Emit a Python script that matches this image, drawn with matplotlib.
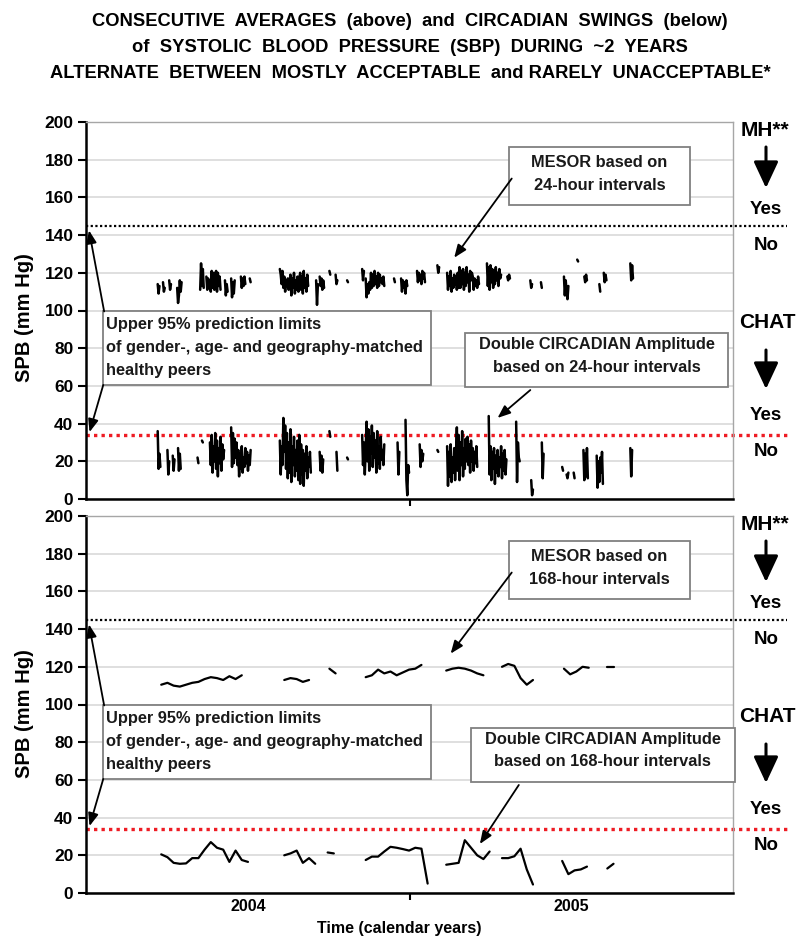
import matplotlib
matplotlib.use("Agg")
import matplotlib.pyplot as plt
from matplotlib.patches import Rectangle, FancyArrowPatch
import numpy as np

plt.rcParams['font.family'] = ['Liberation Sans', 'DejaVu Sans']

# ---------------------------------------------------------------------------
# Data: days counted from 1 Jan 2004; each run = (first day, consecutive values)
# 24-hour runs are daily, 168-hour runs are weekly.
# ---------------------------------------------------------------------------
mesor24_runs = [
    (81, [114, 109, 113]),
    (87, [115, 110, 112]),
    (94, [116, 111, 114]),
    (103, [112, 104, 108, 116, 110, 115]),
    (129, [111, 125, 113, 122, 112]),
    (136, [118, 111, 117, 112, 116, 110, 121, 112, 120, 111, 119, 121, 110, 120, 113, 118, 111]),
    (157, [116, 108, 114, 110]),
    (164, [117, 107, 115, 109, 116]),
    (175, [118, 112, 117, 113, 118, 114]),
    (185, [117, 115]),
    (219, [122, 119, 114, 121, 112, 118, 110, 116, 113, 117, 111, 115, 119, 108, 117, 112, 120,
           109, 116, 111, 118, 110, 117, 120, 111, 118, 109, 121, 112, 117, 110, 119, 113]),
    (260, [116, 103, 114]),
    (264, [118, 113, 117, 111, 116, 112]),
    (275, [121, 119]),
    (282, [119, 114, 116]),
    (295, [116, 115]),
    (312, [122, 116, 121]),
    (316, [117, 107, 114, 109, 115, 111, 120, 112, 119, 113, 121, 114, 118, 112, 120, 113, 119,
           115, 117, 114, 118, 113]),
    (348, [117, 115]),
    (356, [117, 110, 116, 112, 115, 109, 116, 113]),
    (374, [121, 115, 120, 116, 119, 114, 121, 117, 120, 115]),
    (397, [124, 120, 123]),
    (408, [120, 111, 118, 113, 121, 110, 117, 112, 119, 114, 118, 111, 120, 112, 123, 112, 121,
           114, 122, 111, 120, 113, 123, 115, 119, 110, 121, 116, 120, 118, 111, 117, 113, 116,
           112, 118, 114]),
    (453, [125, 113, 123, 111, 124, 115, 122, 112, 121, 114, 123, 116, 120, 113, 122, 117, 119]),
    (476, [118, 116, 119, 117]),
    (502, [116, 112, 114]),
    (514, [115, 112]),
    (540, [118, 108, 116, 110, 106, 113]),
    (555, [127, 126]),
    (563, [118, 115, 119, 116]),
    (580, [114, 110]),
    (585, [120, 115, 119, 116]),
    (615, [125, 116, 124, 117]),
]

amp24_runs = [
    (81, [36, 16, 24, 17]),
    (92, [26, 13, 20]),
    (98, [23, 15, 21]),
    (104, [27, 15, 24, 16]),
    (126, [22, 19]),
    (131, [31, 30]),
    (140, [30, 18, 34, 14, 28, 20, 35, 16, 31, 12, 27, 19, 33, 15, 29, 21, 26]),
    (164, [38, 17, 35, 19, 32, 22, 30, 18, 26, 12, 24, 16, 28, 14, 22, 17, 27, 19, 25, 15, 23,
           18, 26]),
    (219, [31, 13, 28, 18, 43, 25, 39, 16, 35, 11, 30, 14, 37, 9, 28, 18, 33, 12, 26, 15, 31,
           10, 34, 8, 29, 13, 26, 7, 24, 15, 28, 11, 22, 17, 25, 14]),
    (264, [25, 15, 23, 14, 21]),
    (275, [36, 33]),
    (283, [25, 15]),
    (295, [22, 21]),
    (312, [34, 18, 30, 13, 26, 41, 20, 37, 15, 33, 24, 39, 17, 35, 22, 31, 14, 36, 19, 28, 16,
           33, 21, 26, 18, 29]),
    (352, [30, 13, 25]),
    (361, [42, 10, 2, 18, 14]),
    (377, [29, 17, 26, 20, 24]),
    (397, [26, 25]),
    (408, [28, 7, 25, 12, 29, 9, 22, 14, 27, 10, 24, 38, 15, 34, 10, 30, 18, 36, 12, 27, 16,
           32, 20, 33, 18, 29, 14, 31, 20, 27, 15, 25, 19, 28, 17]),
    (455, [44, 13, 28, 10, 25, 16, 27, 8, 23, 14, 26, 12, 22, 17, 28, 11, 24, 15, 26, 13, 21]),
    (486, [41, 9, 30, 22, 20]),
    (503, [10, 2, 5]),
    (515, [30, 11, 24]),
    (538, [17, 15]),
    (543, [13, 11, 14]),
    (551, [14, 11]),
    (562, [26, 10, 24, 12, 27, 11]),
    (577, [23, 6, 20, 9, 22, 14, 25, 8]),
    (615, [27, 12, 26]),
]

mesor168_runs = [
    (85, [110.5, 111.5, 110, 109.5, 110.5, 111.5, 112, 113.5, 114.5, 114, 113, 115, 113.5, 115.5]),
    (224, [113, 114, 113.5, 112, 113]),
    (275, [119, 116.5]),
    (316, [114.5, 115.5, 118.5, 116.5, 117.5, 115.5, 117, 118.5, 119, 121]),
    (407, [118, 119, 119.5, 119, 118, 116.5, 115.5]),
    (470, [120, 121.5, 120.5, 114, 110.5, 113]),
    (540, [119, 116, 117.5, 120, 119.5]),
    (589, [120, 120]),
]

amp168_runs = [
    (85, [20.5, 19, 16, 15.5, 15.7, 18.5, 18.5, 23, 27, 24, 23, 16.5, 22.5, 17.5, 16.5]),
    (224, [20, 21, 22.5, 16, 18.5, 15.5]),
    (273, [21.5, 21]),
    (316, [17.5, 19.3, 19.3, 22, 24.5, 24, 23.3, 22.5, 24, 23.5, 5]),
    (407, [15, 15.5, 16, 28, 24, 20, 18, 22]),
    (470, [18.5, 18.5, 19.5, 23.5, 12.5, 4.5]),
    (538, [17, 10, 12, 12.5, 14]),
    (589, [13, 15.5]),
]

mesor_limit = 145      # upper 95% prediction limit, MESOR
chat_limit = 34        # upper 95% prediction limit, double amplitude
year_labels = ["2004", "2005"]
year_starts = [0, 366, 731]

# ---------------------------------------------------------------------------
W, H = 799, 941
fig = plt.figure(figsize=(W / 100, H / 100), dpi=100)


def px_rect(l, t, r, b):
    return [l / W, 1 - b / H, (r - l) / W, (b - t) / H]


def fpx(x, y):
    return x / W, 1 - y / H


ax_top = fig.add_axes(px_rect(86, 122, 733, 499))
ax_bot = fig.add_axes(px_rect(86, 516, 733, 893))

BOX_EDGE = '#808080'
RED = '#ee1c24'
ann_font = dict(fontsize=11.8, fontweight='bold', color='#1a1a1a')


def draw_runs(ax, runs, step, lw):
    for start, vals in runs:
        days = start + step * np.arange(len(vals))
        ax.plot(days, vals, color='black', lw=lw, solid_joinstyle='round',
                solid_capstyle='round', zorder=3)


def style_axes(ax):
    ax.set_xlim(year_starts[0], year_starts[-1])
    ax.set_ylim(0, 200)
    ax.set_yticks(range(0, 201, 20))
    ax.grid(axis='y', color='#d9d9d9', lw=1.2, zorder=0)
    ax.set_axisbelow(True)
    for side in ('left', 'bottom'):
        ax.spines[side].set_color('black')
        ax.spines[side].set_linewidth(1.8)
    for side in ('top', 'right'):
        ax.spines[side].set_color('#a6a6a6')
        ax.spines[side].set_linewidth(1.0)
    ax.set_xticks([year_starts[1]])
    ax.set_xticklabels([])
    ax.tick_params(axis='x', direction='out', length=5, width=1.5)
    ax.tick_params(axis='y', direction='out', length=6, width=1.5, labelsize=12.5, pad=3)
    for lab in ax.get_yticklabels():
        lab.set_fontweight('bold')
    # reference limits, extended past the plot area to the Yes/No labels
    ax.plot([0, 1.0835], [mesor_limit, mesor_limit], transform=ax.get_yaxis_transform(),
            clip_on=False, color='black', lw=1.6, ls=(0, (1, 1.1)), zorder=2)
    ax.plot([0, 1.0835], [chat_limit, chat_limit], transform=ax.get_yaxis_transform(),
            clip_on=False, color=RED, lw=2.4, ls=(0, (1, 1.25)), zorder=2)


def box(ax, x0, x1, y0, y1):
    ax.add_patch(Rectangle((x0, y0), x1 - x0, y1 - y0, facecolor='white',
                           edgecolor=BOX_EDGE, lw=1.3, zorder=5, clip_on=False))


def arrow(ax, start, end):
    ax.annotate('', xy=end, xytext=start, zorder=6,
                arrowprops=dict(arrowstyle='-|>,head_length=0.7,head_width=0.28',
                                mutation_scale=11, lw=1.3, color='black',
                                shrinkA=0, shrinkB=0))


for ax in (ax_top, ax_bot):
    style_axes(ax)

draw_runs(ax_top, mesor24_runs, 1, 1.8)
draw_runs(ax_top, amp24_runs, 1, 1.8)
draw_runs(ax_bot, mesor168_runs, 7, 1.6)
draw_runs(ax_bot, amp168_runs, 7, 1.6)

# --- annotation boxes -------------------------------------------------------
peers = ["Upper 95% prediction limits",
         "of gender-, age- and geography-matched",
         "healthy peers"]
for ax in (ax_top, ax_bot):
    box(ax, 19.2, 389.5, 60.5, 99.5)
    for yy, line in zip((92.8, 80.6, 68.2), peers):
        ax.text(22.6, yy, line, ha='left', va='center', zorder=7, **ann_font)
    arrow(ax, (20.5, 99.5), (3.4, 142.5))
    arrow(ax, (19.5, 60.5), (4.0, 35.5))

# MESOR boxes
for ax, hours, tip in ((ax_top, "24", (416, 128)), (ax_bot, "168", (412, 127))):
    box(ax, 478, 682, 156, 186.5)
    ax.text(580, 178.5, "MESOR based on", ha='center', va='center', zorder=7, **ann_font)
    ax.text(580, 166.5, f"{hours}-hour intervals", ha='center', va='center', zorder=7,
            **ann_font)
    arrow(ax, (481, 170), tip)

# Double circadian amplitude boxes
box(ax_top, 428, 725.5, 59.4, 88)
ax_top.text(577, 81.7, "Double CIRCADIAN Amplitude", ha='center', va='center', zorder=7,
            **ann_font)
ax_top.text(577, 69.5, "based on 24-hour intervals", ha='center', va='center', zorder=7,
            **ann_font)
arrow(ax_top, (502, 57.8), (465, 43))

box(ax_bot, 435, 733.5, 58.9, 87.5)
ax_bot.text(584, 81.2, "Double CIRCADIAN Amplitude", ha='center', va='center', zorder=7,
            **ann_font)
ax_bot.text(584, 69.5, "based on 168-hour intervals", ha='center', va='center', zorder=7,
            **ann_font)
arrow(ax_bot, (489, 57.3), (445, 26))

# --- right-hand outcome labels -----------------------------------------------
for dy in (0, 394):
    fig.text(*fpx(765, 131 + dy), "MH**", ha='center', va='center', fontsize=15,
             fontweight='bold')
    fig.text(*fpx(766, 210 + dy), "Yes", ha='center', va='center', fontsize=13.5,
             fontweight='bold')
    fig.text(*fpx(766, 246 + dy), "No", ha='center', va='center', fontsize=13.5,
             fontweight='bold')
    fig.text(*fpx(767, 323 + dy), "CHAT", ha='center', va='center', fontsize=15,
             fontweight='bold')
    fig.text(*fpx(766, 415 + dy), "Yes", ha='center', va='center', fontsize=13.5,
             fontweight='bold')
    fig.text(*fpx(766, 452 + dy), "No", ha='center', va='center', fontsize=13.5,
             fontweight='bold')
    for y0, y1 in ((147, 188), (350, 389)):
        fig.patches.append(FancyArrowPatch(
            fpx(766, y0 + dy), fpx(766, y1 + dy), transform=fig.transFigure,
            arrowstyle='-|>,head_length=0.9,head_width=0.42', mutation_scale=18,
            lw=2.2, color='black', shrinkA=0, shrinkB=0))

# --- axis titles ------------------------------------------------------------
for yc in (318, 714):
    fig.text(*fpx(24, yc), "SPB (mm Hg)", rotation=90, ha='center', va='center',
             fontsize=14.5, fontweight='bold')

for lab, mid in zip(year_labels, ((year_starts[0] + year_starts[1]) / 2,
                                  (year_starts[1] + year_starts[2]) / 2)):
    ax_bot.text(mid, -0.035, lab, transform=ax_bot.get_xaxis_transform(), ha='center',
                va='center', fontsize=11.5, fontweight='bold')
fig.text(*fpx(399, 928), "Time (calendar years)", ha='center', va='center', fontsize=11.5,
         fontweight='bold')

# --- title ------------------------------------------------------------------
title_lines = [
    "CONSECUTIVE  AVERAGES  (above)  and  CIRCADIAN  SWINGS  (below)",
    "of  SYSTOLIC  BLOOD  PRESSURE  (SBP)  DURING  ~2  YEARS",
    "ALTERNATE  BETWEEN  MOSTLY  ACCEPTABLE  and RARELY  UNACCEPTABLE*",
]
for yc, line in zip((21, 47, 73), title_lines):
    fig.text(*fpx(410, yc), line, ha='center', va='center', fontsize=13.2,
             fontweight='bold')

fig.savefig("out.png", dpi=100)
